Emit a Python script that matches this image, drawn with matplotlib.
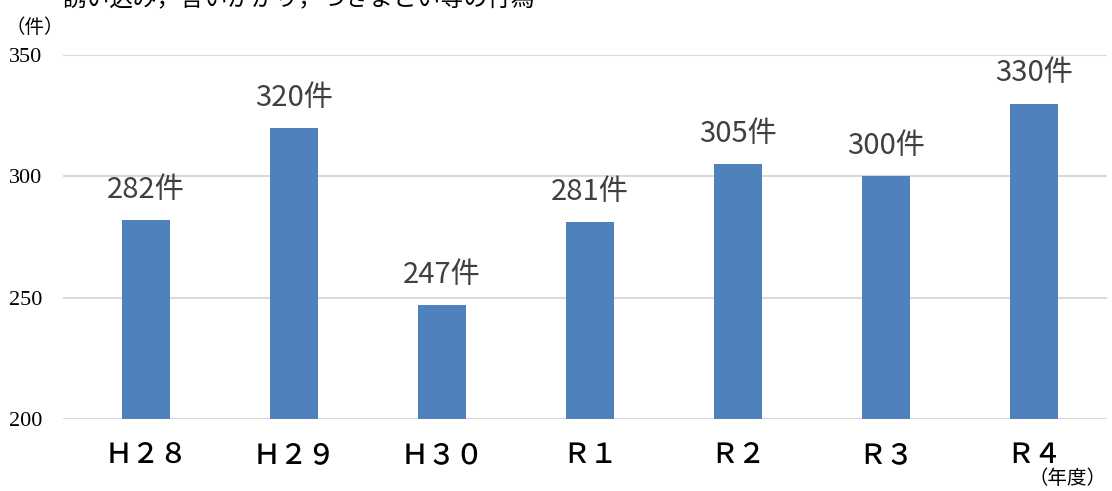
import matplotlib
matplotlib.use("Agg")
import matplotlib.pyplot as plt

plt.rcParams['font.family'] = ['Noto Sans CJK JP', 'DejaVu Sans']

# 年度別件数
years = ["Ｈ２８", "Ｈ２９", "Ｈ３０", "Ｒ１", "Ｒ２", "Ｒ３", "Ｒ４"]
counts = [282, 320, 247, 281, 305, 300, 330]
y_ticks = [200, 250, 300, 350]

bar_color = "#4F81BD"
grid_color = "#D9D9D9"

fig = plt.figure(figsize=(11.12, 4.91), dpi=100)
ax = fig.add_axes([0.0567, 0.1466, 0.9388, 0.7413])

x = list(range(len(years)))
ax.bar(x, counts, width=0.324, color=bar_color, zorder=3)

ax.set_ylim(200, 350)
ax.set_xlim(-0.56, 6.49)
ax.set_yticks(y_ticks)
ax.set_yticklabels([str(v) for v in y_ticks], family="Liberation Serif", fontsize=16)
ax.set_xticks(x)
ax.set_xticklabels(years, fontsize=20, fontweight="medium")
ax.tick_params(axis="both", length=0)
ax.tick_params(axis="y", pad=15)
ax.tick_params(axis="x", pad=15)
ax.grid(axis="y", color=grid_color, linewidth=1.5, zorder=0)
for s in ax.spines.values():
    s.set_visible(False)

# 棒の上に件数を表示
for xi, v in zip(x, counts):
    ax.annotate(f"{v}件", (xi, v), xytext=(0, 11), textcoords="offset points",
                ha="center", va="bottom", fontsize=21, color="#404040")

fig.text(0.005, 0.945, "（件）", fontsize=14, ha="left", va="center")
fig.text(0.995, 0.026, "（年度）", fontsize=14, ha="right", va="center")
fig.text(0.056, 0.9898, "誘い込み，言いがかり，つきまとい等の行為", fontsize=17,
         ha="left", va="baseline")

fig.savefig("out.png", dpi=100)
